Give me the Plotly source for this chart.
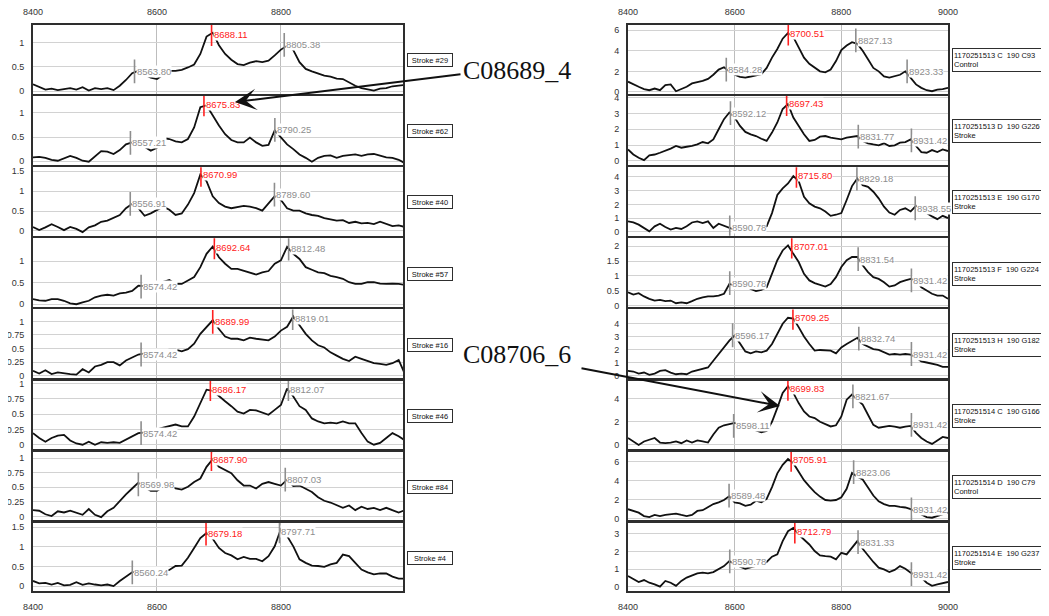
import plotly.graph_objects as go

# ---------------- data ----------------
MZ = [8400, 8410, 8420, 8430, 8440, 8450, 8460, 8470, 8480, 8490,
      8500, 8510, 8520, 8530, 8540, 8550, 8560, 8570, 8580, 8590,
      8600, 8610, 8620, 8630, 8640, 8650, 8660, 8670, 8680, 8690,
      8700, 8710, 8720, 8730, 8740, 8750, 8760, 8770, 8780, 8790,
      8800, 8810, 8820, 8830, 8840, 8850, 8860, 8870, 8880, 8890,
      8900, 8910, 8920, 8930, 8940, 8950, 8960, 8970, 8980, 8990,
      9000]

X_TICKS_LEFT = [8400, 8600, 8800]
X_TICKS_RIGHT = [8400, 8600, 8800, 9000]

# left column spectra
stroke29 = [0.14, 0.08, 0.03, 0.05, 0.02, 0.04, 0.06, 0.03, 0.08, 0.01,
            0.06, 0.04, 0.06, 0.02, 0.11, 0.23, 0.37, 0.42, 0.34, 0.28,
            0.25, 0.34, 0.42, 0.42, 0.44, 0.49, 0.55, 0.77, 1.13, 1.21,
            0.95, 0.77, 0.65, 0.56, 0.54, 0.59, 0.62, 0.60, 0.63, 0.74,
            0.86, 0.94, 0.85, 0.60, 0.46, 0.41, 0.37, 0.32, 0.30, 0.26,
            0.25, 0.18, 0.11, 0.06, 0.03, 0.01, 0.05, 0.06, 0.10, 0.11,
            0.13]
stroke62 = [0.08, 0.09, 0.07, 0.03, 0.01, 0.06, 0.11, 0.07, 0.01, -0.01,
            0.11, 0.21, 0.20, 0.15, 0.23, 0.35, 0.39, 0.37, 0.30, 0.22,
            0.28, 0.48, 0.46, 0.41, 0.39, 0.46, 0.70, 1.12, 1.16, 0.95,
            0.74, 0.56, 0.44, 0.39, 0.39, 0.49, 0.39, 0.32, 0.34, 0.64,
            0.49, 0.35, 0.25, 0.14, 0.07, -0.01, 0.07, 0.11, 0.12, 0.07,
            0.11, 0.13, 0.14, 0.11, 0.14, 0.15, 0.11, 0.08, 0.07, 0.03,
            -0.04]
stroke40 = [0.10, 0.02, 0.09, 0.17, 0.10, 0.02, 0.10, 0.05, -0.03, 0.09,
            0.14, 0.23, 0.26, 0.32, 0.40, 0.57, 0.68, 0.57, 0.38, 0.44,
            0.53, 0.61, 0.53, 0.40, 0.44, 0.66, 0.95, 1.42, 1.25, 0.87,
            0.70, 0.61, 0.57, 0.60, 0.63, 0.61, 0.57, 0.51, 0.70, 0.87,
            0.78, 0.57, 0.51, 0.51, 0.44, 0.40, 0.38, 0.32, 0.29, 0.26,
            0.27, 0.20, 0.23, 0.19, 0.20, 0.17, 0.23, 0.17, 0.12, 0.14,
            0.10]
stroke57 = [0.12, 0.09, 0.08, 0.12, 0.12, 0.08, 0.02, 0.00, 0.04, 0.08,
            0.16, 0.20, 0.22, 0.20, 0.25, 0.27, 0.31, 0.43, 0.42, 0.45,
            0.48, 0.52, 0.56, 0.47, 0.47, 0.55, 0.63, 0.86, 1.17, 1.34,
            1.09, 0.94, 0.82, 0.82, 0.78, 0.74, 0.69, 0.74, 0.77, 0.94,
            1.02, 1.33, 1.17, 1.05, 0.86, 0.80, 0.74, 0.72, 0.66, 0.63,
            0.59, 0.51, 0.47, 0.47, 0.51, 0.51, 0.48, 0.47, 0.48, 0.47,
            0.45]
stroke16 = [0.09, 0.04, 0.10, 0.03, 0.06, 0.04, 0.03, 0.02, 0.12, 0.06,
            0.17, 0.20, 0.25, 0.25, 0.19, 0.28, 0.33, 0.39, 0.41, 0.43,
            0.45, 0.47, 0.48, 0.48, 0.45, 0.49, 0.59, 0.77, 0.90, 1.02,
            0.86, 0.72, 0.68, 0.68, 0.65, 0.70, 0.68, 0.66, 0.65, 0.72,
            0.83, 0.90, 1.09, 0.93, 0.77, 0.65, 0.56, 0.52, 0.43, 0.37,
            0.31, 0.27, 0.35, 0.31, 0.27, 0.23, 0.22, 0.20, 0.23, 0.29,
            0.03]
stroke46 = [0.19, 0.11, 0.05, 0.11, 0.15, 0.16, 0.07, 0.02, 0.00, 0.05,
            0.00, 0.04, 0.03, 0.04, 0.03, 0.08, 0.14, 0.19, 0.20, 0.22,
            0.25, 0.28, 0.30, 0.33, 0.30, 0.30, 0.46, 0.68, 0.90, 0.88,
            0.79, 0.71, 0.63, 0.54, 0.51, 0.57, 0.56, 0.53, 0.49, 0.57,
            0.65, 0.92, 0.79, 0.63, 0.57, 0.43, 0.38, 0.35, 0.36, 0.35,
            0.38, 0.35, 0.35, 0.19, 0.05, 0.00, 0.03, 0.11, 0.19, 0.14,
            0.07]
stroke84 = [0.11, 0.10, 0.04, 0.01, 0.09, 0.07, 0.10, 0.07, 0.03, 0.13,
            0.03, -0.01, 0.09, 0.15, 0.27, 0.38, 0.48, 0.58, 0.50, 0.44,
            0.44, 0.51, 0.53, 0.48, 0.46, 0.51, 0.59, 0.65, 0.85, 0.98,
            0.85, 0.80, 0.74, 0.62, 0.53, 0.53, 0.48, 0.56, 0.59, 0.56,
            0.53, 0.63, 0.52, 0.53, 0.48, 0.42, 0.33, 0.27, 0.24, 0.19,
            0.15, 0.19, 0.11, 0.17, 0.13, 0.15, 0.11, 0.15, 0.11, 0.07,
            0.11]
stroke4 = [0.13, 0.07, 0.08, 0.04, 0.08, 0.02, 0.03, 0.10, 0.03, 0.07,
           0.04, 0.02, 0.04, 0.00, 0.13, 0.25, 0.35, 0.38, 0.40, 0.41,
           0.40, 0.38, 0.41, 0.51, 0.52, 0.72, 0.97, 1.22, 1.35, 1.20,
           0.97, 0.84, 0.78, 0.68, 0.74, 0.69, 0.69, 0.63, 0.76, 1.01,
           1.45, 1.27, 1.01, 0.68, 0.59, 0.52, 0.51, 0.49, 0.55, 0.59,
           0.80, 0.76, 0.59, 0.42, 0.35, 0.30, 0.32, 0.32, 0.24, 0.19,
           0.19]

# right column spectra
s1513C = [1.00, 0.73, 0.50, 0.27, 0.17, 0.33, 0.17, 0.67, 0.73, 0.07,
          0.27, 0.50, 0.83, 0.93, 1.07, 1.27, 1.67, 2.17, 2.40, 2.00,
          1.67, 1.47, 1.40, 1.50, 1.60, 1.73, 2.33, 3.33, 4.17, 5.17,
          5.73, 5.33, 4.33, 3.33, 2.73, 2.33, 2.00, 1.90, 2.17, 3.00,
          4.07, 4.50, 4.83, 4.67, 4.00, 3.17, 2.33, 2.00, 1.50, 1.40,
          1.50, 1.67, 2.00, 1.33, 0.73, 0.40, 0.17, 0.07, 0.23, 0.27,
          0.40]
s1513D = [0.72, 0.40, 0.19, 0.04, 0.34, 0.40, 0.51, 0.62, 0.77, 0.94,
          0.83, 0.89, 0.94, 1.04, 1.19, 1.11, 1.36, 2.00, 2.64, 3.06,
          2.74, 2.21, 1.83, 1.68, 1.57, 1.40, 1.26, 1.79, 2.43, 3.28,
          3.60, 2.74, 2.21, 1.68, 1.26, 1.32, 1.53, 1.57, 1.47, 1.40,
          1.36, 1.47, 1.53, 1.57, 1.26, 1.11, 1.04, 0.98, 1.11, 0.94,
          0.98, 1.15, 1.19, 1.36, 0.94, 0.55, 0.51, 0.68, 0.55, 0.72,
          0.62]
s1513E = [0.77, 0.69, 0.53, 0.29, 0.05, 0.41, 0.60, 0.36, 0.17, 0.29,
          0.22, 0.41, 0.69, 0.77, 0.65, 0.77, 0.29, 0.60, 0.46, 0.29,
          0.15, 0.10, 0.07, 0.05, 0.07, 0.22, 0.41, 1.37, 2.68, 3.16,
          3.52, 4.05, 3.70, 2.56, 2.08, 1.84, 1.72, 1.49, 1.17, 1.25,
          1.37, 2.32, 3.33, 3.88, 3.40, 3.28, 2.92, 2.44, 1.84, 1.41,
          1.25, 1.60, 1.72, 1.49, 1.89, 1.72, 1.37, 1.13, 0.93, 1.17,
          1.01]
s1513F = [0.45, 0.37, 0.42, 0.31, 0.23, 0.17, 0.19, 0.15, 0.17, 0.08,
          0.11, 0.08, 0.15, 0.23, 0.28, 0.31, 0.31, 0.34, 0.40, 0.73,
          0.68, 0.73, 0.68, 0.56, 0.49, 0.53, 0.62, 1.07, 1.53, 1.86,
          2.03, 1.75, 1.47, 1.07, 0.85, 0.76, 0.71, 0.64, 0.73, 0.96,
          1.30, 1.53, 1.64, 1.64, 1.36, 1.13, 0.96, 0.90, 0.79, 0.64,
          0.68, 0.79, 0.85, 0.90, 0.85, 0.62, 0.51, 0.40, 0.34, 0.34,
          0.23]
s1513H = [0.39, 0.34, 0.18, 0.26, 0.08, 0.18, 0.39, 0.44, 0.26, 0.13,
          0.18, 0.13, 0.34, 0.44, 0.52, 0.65, 1.16, 1.68, 2.19, 2.71,
          3.10, 2.45, 1.88, 1.73, 1.88, 1.81, 1.94, 2.45, 3.23, 4.00,
          4.46, 4.40, 3.74, 3.02, 2.45, 1.94, 1.99, 1.99, 1.94, 1.73,
          2.19, 2.45, 2.71, 2.92, 2.45, 2.25, 2.06, 1.99, 1.81, 1.63,
          1.68, 1.63, 1.68, 1.63, 1.42, 1.11, 1.03, 0.95, 0.85, 0.70,
          0.70]
s1514C = [0.60, 0.30, 0.00, 0.30, 0.45, 0.60, 0.21, 0.15, 0.21, 0.30,
          0.15, 0.39, 0.21, 0.39, 0.30, 0.21, 0.90, 1.49, 1.70, 1.79,
          1.90, 1.75, 1.60, 1.40, 1.25, 1.10, 1.20, 2.00, 3.20, 4.50,
          5.07, 4.50, 3.62, 2.90, 2.46, 2.32, 2.00, 1.80, 1.60, 1.70,
          2.46, 3.91, 4.35, 3.90, 3.48, 2.61, 1.74, 1.49, 1.58, 1.64,
          1.58, 1.49, 1.58, 1.64, 1.04, 0.60, 0.30, 0.09, 0.39, 0.69,
          0.60]
s1514D = [0.97, 0.79, 0.61, 0.25, 0.14, 0.36, 0.25, 0.36, 0.43, 0.50,
          0.36, 0.25, 0.36, 0.79, 0.86, 1.15, 1.51, 1.69, 1.94, 2.35,
          1.69, 1.58, 1.33, 1.44, 1.87, 1.69, 2.05, 3.31, 4.75, 5.65,
          6.26, 5.83, 4.93, 4.03, 3.38, 2.77, 2.30, 1.94, 1.87, 1.94,
          2.23, 3.13, 4.80, 4.39, 4.10, 3.31, 2.41, 1.80, 1.51, 1.33,
          1.33, 1.22, 1.15, 0.97, 0.72, 0.43, 0.14, 0.07, 0.25, 0.43,
          0.61]
s1514E = [0.62, 0.43, 0.28, 0.39, 0.24, 0.15, 0.02, 0.34, 0.24, 0.06,
          0.34, 0.53, 0.66, 0.77, 0.81, 0.77, 0.84, 0.99, 1.18, 1.46,
          1.30, 1.15, 1.03, 1.10, 1.20, 1.28, 1.41, 1.71, 1.84, 2.59,
          3.15, 3.34, 2.96, 2.68, 2.40, 2.03, 1.78, 1.74, 1.71, 1.56,
          1.93, 1.84, 2.21, 2.59, 2.16, 1.78, 1.41, 1.09, 0.99, 0.84,
          0.96, 1.18, 1.03, 0.81, 0.66, 0.53, 0.24, 0.06, 0.15, 0.21,
          0.28]

# labelled peaks (m/z) and label heights; the second entry is the main (red) peak
pk_stroke29 = [8563.80, 8688.11, 8805.38]; ph_stroke29 = [0.41, 1.18, 0.96]
pk_stroke62 = [8557.21, 8675.83, 8790.25]; ph_stroke62 = [0.38, 1.18, 0.65]
pk_stroke40 = [8556.91, 8670.99, 8789.60]; ph_stroke40 = [0.68, 1.41, 0.91]
pk_stroke57 = [8574.42, 8692.64, 8812.48]; ph_stroke57 = [0.41, 1.32, 1.29]
pk_stroke16 = [8574.42, 8689.99, 8819.01]; ph_stroke16 = [0.39, 0.99, 1.06]
pk_stroke46 = [8574.42, 8686.17, 8812.07]; ph_stroke46 = [0.19, 0.91, 0.91]
pk_stroke84 = [8569.98, 8687.90, 8807.03]; ph_stroke84 = [0.55, 0.98, 0.63]
pk_stroke4 = [8560.24, 8679.18, 8797.71]; ph_stroke4 = [0.35, 1.33, 1.39]
pk_1513C = [8584.28, 8700.51, 8827.13, 8923.33]; ph_1513C = [2.17, 5.67, 5.0, 2.0]
pk_1513D = [8592.12, 8697.43, 8831.77, 8931.42]; ph_1513D = [3.02, 3.6, 1.53, 1.30]
pk_1513E = [8590.78, 8715.80, 8829.18, 8938.55]; ph_1513E = [0.34, 4.07, 3.88, 1.72]
pk_1513F = [8590.78, 8707.01, 8831.54, 8931.42]; ph_1513F = [0.76, 1.99, 1.57, 0.85]
pk_1513H = [8596.17, 8709.25, 8832.74, 8931.42]; ph_1513H = [3.12, 4.46, 2.86, 1.68]
pk_1514C = [8598.11, 8699.83, 8821.67, 8931.42]; ph_1514C = [1.65, 4.84, 4.2, 1.74]
pk_1514D = [8589.48, 8705.91, 8823.06, 8931.42]; ph_1514D = [2.41, 6.19, 4.89, 0.94]
pk_1514E = [8590.78, 8712.79, 8831.33, 8931.42]; ph_1514E = [1.44, 3.13, 2.53, 0.73]

LEFT_NAMES = ["Stroke #29", "Stroke #62", "Stroke #40", "Stroke #57",
              "Stroke #16", "Stroke #46", "Stroke #84", "Stroke #4"]
RIGHT_NAMES = ["1170251513 C  190 C93<br>Control", "1170251513 D  190 G226<br>Stroke",
               "1170251513 E  190 G170<br>Stroke", "1170251513 F  190 G224<br>Stroke",
               "1170251513 H  190 G182<br>Stroke", "1170251514 C  190 G166<br>Stroke",
               "1170251514 D  190 C79<br>Control", "1170251514 E  190 G237<br>Stroke"]

LEFT_Y_RANGES = [[-0.05, 1.37], [-0.07, 1.35], [-0.12, 1.6], [-0.06, 1.53],
                 [-0.04, 1.22], [-0.07, 1.05], [-0.06, 1.11], [-0.13, 1.61]]
RIGHT_Y_RANGES = [[-0.15, 6.5], [-0.24, 4.1], [-0.27, 4.7], [-0.04, 2.27],
                  [-0.15, 5.1], [-0.35, 5.57], [-0.18, 7.05], [-0.24, 3.63]]
LEFT_Y_TICKS = [[0, 0.5, 1], [0, 0.5, 1], [0, 0.5, 1, 1.5], [0, 0.5, 1],
                [0, 0.25, 0.5, 0.75, 1], [0, 0.25, 0.5, 0.75, 1],
                [0, 0.25, 0.5, 0.75, 1], [0, 0.5, 1, 1.5]]
RIGHT_Y_TICKS = [[0, 2, 4, 6], [0, 1, 2, 3, 4], [0, 1, 2, 3, 4], [0, 0.5, 1, 1.5, 2],
                 [0, 1, 2, 3, 4], [0, 2, 4], [0, 2, 4, 6], [0, 1, 2, 3]]

LEFT_SPECTRA = [stroke29, stroke62, stroke40, stroke57, stroke16, stroke46, stroke84, stroke4]
RIGHT_SPECTRA = [s1513C, s1513D, s1513E, s1513F, s1513H, s1514C, s1514D, s1514E]
LEFT_PEAKS = [(pk_stroke29, ph_stroke29), (pk_stroke62, ph_stroke62), (pk_stroke40, ph_stroke40),
              (pk_stroke57, ph_stroke57), (pk_stroke16, ph_stroke16), (pk_stroke46, ph_stroke46),
              (pk_stroke84, ph_stroke84), (pk_stroke4, ph_stroke4)]
RIGHT_PEAKS = [(pk_1513C, ph_1513C), (pk_1513D, ph_1513D), (pk_1513E, ph_1513E),
               (pk_1513F, ph_1513F), (pk_1513H, ph_1513H), (pk_1514C, ph_1514C),
               (pk_1514D, ph_1514D), (pk_1514E, ph_1514E)]

CALLOUTS = ["C08689_4", "C08706_6"]

# ---------------- layout ----------------
# the page has the browser's default 8px body margin; the figure is sized to fit
OFF = 8
W, H = 1049 - OFF, 616 - OFF
FONT = "Liberation Sans, Arial, sans-serif"
SERIF = "Liberation Serif, Times New Roman, serif"
RED = "#ff2020"
GREY = "#8e8e8e"
FRAME = "#2e2e2e"


def fx(px):
    return (px - OFF) / W


def fy(py):
    return 1 - (py - OFF) / H


fig = go.Figure()
layout = dict(width=W, height=H, margin=dict(l=0, r=0, t=0, b=0, pad=0), autosize=False,
              paper_bgcolor="white", plot_bgcolor="white", showlegend=False)
annotations = []


def fmt(v):
    return "%g" % v


def add_panel(k, col, row, spectrum, peaks, heights, yr, yt, name):
    top = 25 + 71.1 * row
    bot = top + 68.5
    ydom = [fy(bot), fy(top)]
    if col == 0:
        xdom = [fx(33), fx(403)]
        xr = [8400, 8997]
        xt = X_TICKS_LEFT
    else:
        xdom = [fx(628), fx(948)]
        xr = [8400, 9000]
        xt = X_TICKS_RIGHT
    xa = "x" if k == 1 else "x%d" % k
    ya = "y" if k == 1 else "y%d" % k
    xkey = "xaxis" if k == 1 else "xaxis%d" % k
    ykey = "yaxis" if k == 1 else "yaxis%d" % k
    side = "top" if row == 0 else "bottom"
    layout[xkey] = dict(domain=xdom, range=xr, anchor=ya, tickvals=xt,
                        ticktext=[str(v) for v in xt], automargin=False,
                        showticklabels=(row in (0, 7)), side=side,
                        ticks="outside", ticklen=(4 if row == 0 else 6),
                        tickcolor="rgba(0,0,0,0)",
                        tickfont=dict(size=9, color="#333", family=FONT),
                        showgrid=True, gridcolor="#bdbdbd", gridwidth=1,
                        zeroline=False, showline=True, mirror=True,
                        linecolor=FRAME, linewidth=2, fixedrange=True)
    layout[ykey] = dict(domain=ydom, range=yr, anchor=xa, tickvals=yt,
                        ticktext=[fmt(v) for v in yt], automargin=False,
                        ticks="outside", ticklen=5, tickcolor="rgba(0,0,0,0)",
                        tickfont=dict(size=9, color="#333", family=FONT),
                        showgrid=True, gridcolor="#d2d2d2", gridwidth=1,
                        zeroline=False, showline=True, mirror=True,
                        linecolor=FRAME, linewidth=2, fixedrange=True)
    fig.add_trace(go.Scatter(x=MZ, y=spectrum, xaxis=xa, yaxis=ya, mode="lines",
                             line=dict(color="#111111", width=1.8), hoverinfo="skip"))
    cols = [RED if i == 1 else GREY for i in range(len(peaks))]
    fig.add_trace(go.Scatter(x=peaks, y=heights, xaxis=xa, yaxis=ya, mode="markers",
                             marker=dict(symbol="line-ns", size=17, color=cols,
                                         line=dict(width=1.6, color=cols)),
                             hoverinfo="skip"))
    for m, h, c in zip(peaks, heights, cols):
        annotations.append(dict(x=m, y=h, xref=xa, yref=ya, text="%.2f" % m,
                                showarrow=False, xanchor="left", yanchor="middle",
                                xshift=1, bgcolor="white", borderpad=0,
                                font=dict(size=9.5, color=c, family=FONT)))
    # name box
    cy = (top + bot) / 2 + 1
    if col == 0:
        annotations.append(dict(x=fx(429.5), y=fy(cy), xref="paper", yref="paper",
                                xanchor="center", yanchor="middle",
                                text=name, showarrow=False, width=42, height=10,
                                align="center", bgcolor="white", bordercolor=FRAME,
                                borderwidth=1, borderpad=1,
                                font=dict(size=7.5, color="#111", family=FONT)))
    else:
        annotations.append(dict(x=fx(997.5), y=fy(cy), xref="paper", yref="paper",
                                xanchor="center", yanchor="middle",
                                text=name, showarrow=False, width=88, height=20,
                                align="left", bgcolor="white", bordercolor=FRAME,
                                borderwidth=1, borderpad=1,
                                font=dict(size=7.5, color="#111", family=FONT)))


k = 1
for r in range(8):
    add_panel(k, 0, r, LEFT_SPECTRA[r], LEFT_PEAKS[r][0], LEFT_PEAKS[r][1],
              LEFT_Y_RANGES[r], LEFT_Y_TICKS[r], LEFT_NAMES[r])
    k += 1
for r in range(8):
    add_panel(k, 1, r, RIGHT_SPECTRA[r], RIGHT_PEAKS[r][0], RIGHT_PEAKS[r][1],
              RIGHT_Y_RANGES[r], RIGHT_Y_TICKS[r], RIGHT_NAMES[r])
    k += 1

# callout texts and arrows
annotations.append(dict(x=fx(517), y=fy(70), xref="paper", yref="paper",
                        xanchor="center", yanchor="middle",
                        text=CALLOUTS[0], showarrow=False,
                        font=dict(size=26, color="#111", family=SERIF)))
annotations.append(dict(x=fx(517), y=fy(354), xref="paper", yref="paper",
                        xanchor="center", yanchor="middle",
                        text=CALLOUTS[1], showarrow=False,
                        font=dict(size=26, color="#111", family=SERIF)))
annotations.append(dict(x=fx(235), y=fy(102), xref="paper", yref="paper", text="",
                        showarrow=True, ax=227, ay=-28, axref="pixel", ayref="pixel",
                        arrowhead=3, arrowsize=1.8, arrowwidth=2, arrowcolor="#111",
                        standoff=0))
annotations.append(dict(x=fx(780), y=fy(406), xref="paper", yref="paper", text="",
                        showarrow=True, ax=-200, ay=-38, axref="pixel", ayref="pixel",
                        arrowhead=3, arrowsize=1.8, arrowwidth=2, arrowcolor="#111",
                        standoff=0))

layout["annotations"] = annotations
fig.update_layout(**layout)
fig.write_html("out.html")
